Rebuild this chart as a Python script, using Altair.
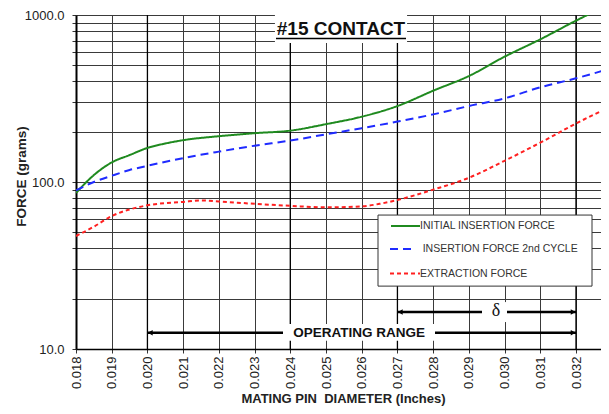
import altair as alt
import pandas as pd

# ---------------- data ----------------
series = ["INITIAL INSERTION FORCE", "INSERTION FORCE 2nd CYCLE", "EXTRACTION FORCE"]
colors = ["#1f8a1f", "#1f2bff", "#ff2020"]
dashes = [[1, 0], [8, 5], [4, 3]]

green_x = [0.018, 0.0185, 0.019, 0.0195, 0.020, 0.0205, 0.021, 0.022, 0.023, 0.024,
           0.025, 0.026, 0.027, 0.028, 0.029, 0.030, 0.031, 0.032, 0.0324]
green_y = [86, 110, 131, 145, 160, 170, 178, 188, 196, 203,
           222, 246, 285, 352, 431, 563, 715, 925, 1020]

blue_x = [0.018, 0.0185, 0.019, 0.0195, 0.020, 0.021, 0.022, 0.023, 0.024,
          0.025, 0.026, 0.027, 0.028, 0.029, 0.030, 0.031, 0.032, 0.033]
blue_y = [89, 100, 109, 118, 125, 139, 152, 165, 177,
          193, 210, 230, 254, 285, 317, 369, 418, 480]

red_x = [0.018, 0.0185, 0.019, 0.0195, 0.020, 0.021, 0.0215, 0.022, 0.023, 0.024,
         0.025, 0.026, 0.0265, 0.027, 0.028, 0.029, 0.030, 0.031, 0.032, 0.033]
red_y = [47.5, 54, 62.5, 68.5, 72.5, 76, 77.5, 76.5, 74, 72,
         70.5, 71.5, 74, 78, 90, 106, 134, 172, 224, 285]

x_ticks = [0.018, 0.019, 0.020, 0.021, 0.022, 0.023, 0.024, 0.025, 0.026,
           0.027, 0.028, 0.029, 0.030, 0.031, 0.032]
y_ticks = [10, 20, 30, 40, 50, 60, 70, 80, 90,
           100, 200, 300, 400, 500, 600, 700, 800, 900, 1000]
x_domain = [0.018, 0.0327]
y_domain = [10, 1000]

# emphasised vertical grid lines (operating-range marks)
strong_x = [0.020, 0.024, 0.027, 0.032]

# annotations (data units)
title_text = ["#15 CONTACT"]
title_pos = [0.02542, 759]
title_box = [0.02357, 0.02727, 1000, 679]
title_underline = [0.02360, 0.02724, 723]

op_text = ["OPERATING RANGE"]
op_line = [0.020, 0.032, 12.5]
op_box = [0.023796, 0.028052, 14.1, 11.2]
op_text_pos = [0.025924, 12.5]

delta_text = ["\u03b4"]
delta_line = [0.027, 0.032, 16.66]
delta_box = [0.029368, 0.030068, 19.1, 14.5]
delta_text_pos = [0.029760, 16.9]

legend_box = [0.026456, 0.032448, 63.4, 23.8]
legend_rows_y = [54.5, 39.7, 28.3]
legend_sample_x1 = [0.02682, 0.026792, 0.026792]
legend_sample_x2 = [0.027632, 0.027408, 0.027632]
legend_text_x = [0.027632, 0.027706, 0.027632]

FONT = "Liberation Sans"
GRID = "#3a3a3a"

# ---------------- tables ----------------
df = pd.concat([
    pd.DataFrame({"x": green_x, "y": green_y, "series": series[0]}),
    pd.DataFrame({"x": blue_x, "y": blue_y, "series": series[1]}),
    pd.DataFrame({"x": red_x, "y": red_y, "series": series[2]}),
], ignore_index=True)

xscale = alt.Scale(domain=x_domain, nice=False, zero=False)
yscale = alt.Scale(type="log", domain=y_domain, nice=False)

xaxis = alt.Axis(
    values=x_ticks, format=".3f", labelAngle=-90, labelFontSize=13, labelColor="#222",
    labelPadding=3, labelFlush=False, labelOverlap=False, labelFont=FONT,
    tickSize=4, tickColor="#333", grid=True, gridColor=GRID, gridWidth=1,
    domainColor="#000", domainWidth=1.5,
    title="MATING PIN \u00a0DIAMETER (Inches)", titleFont=FONT, titleFontSize=13,
    titleFontWeight="bold", titleColor="#222", titleX=267, titleY=53,
    titleBaseline="alphabetic", titleAlign="center",
)
yaxis = alt.Axis(
    values=y_ticks,
    labelExpr="(datum.value == 10 || datum.value == 100 || datum.value == 1000) ? format(datum.value, '.1f') : ''",
    labelFontSize=13, labelColor="#222", labelPadding=8, labelFont=FONT, labelOverlap=False,
    tickSize=4, tickColor="#333", grid=True, gridColor=GRID, gridWidth=1,
    domainColor="#000", domainWidth=2,
    title="FORCE (grams)", titleFont=FONT, titleFontSize=13.5, titleFontWeight="bold",
    titleColor="#222", titleAngle=270, titleX=-55, titleY=161,
    titleAlign="center", titleBaseline="middle",
)


def X(f):
    return alt.X(f"{f}:Q", scale=xscale, axis=xaxis)


def Y(f):
    return alt.Y(f"{f}:Q", scale=yscale, axis=yaxis)


color_enc = alt.Color("series:N", scale=alt.Scale(domain=series, range=colors), legend=None)
dash_enc = alt.StrokeDash("series:N", scale=alt.Scale(domain=series, range=dashes), legend=None)

base = alt.Chart(df)

strong = alt.Chart(pd.DataFrame({"x": strong_x})).mark_rule(color="#000", strokeWidth=1.3).encode(x=X("x"))

lines = base.mark_line(strokeWidth=2, clip=True, interpolate="monotone").encode(
    x=X("x"), y=Y("y"), color=color_enc, strokeDash=dash_enc
)


def box(vals, stroke=None):
    d = pd.DataFrame({"x": [vals[0]], "x2": [vals[1]], "y": [vals[2]], "y2": [vals[3]]})
    kw = dict(fill="white")
    if stroke:
        kw.update(stroke=stroke, strokeWidth=1)
    return alt.Chart(d).mark_rect(**kw).encode(
        x=X("x"), x2="x2:Q", y=Y("y"), y2="y2:Q")


def hline(vals, width):
    d = pd.DataFrame({"x": [vals[0]], "x2": [vals[1]], "y": [vals[2]]})
    return alt.Chart(d).mark_rule(color="#000", strokeWidth=width).encode(
        x=X("x"), x2="x2:Q", y=Y("y"))


def label(txt, pos, size, weight="normal", font=FONT):
    d = pd.DataFrame({"x": [pos[0]], "y": [pos[1]], "t": txt})
    return alt.Chart(d).mark_text(font=font, fontSize=size, fontWeight=weight, color="#111",
                                  align="center", baseline="middle").encode(
        x=X("x"), y=Y("y"), text="t:N")


def heads(line):
    d = pd.DataFrame({"x": [line[0] + 0.00008, line[1] - 0.00008], "y": [line[2]] * 2,
                      "s": ["triangle-left", "triangle-right"]})
    return alt.Chart(d).mark_point(filled=True, size=30, color="#000", opacity=1).encode(
        x=X("x"), y=Y("y"),
        shape=alt.Shape("s:N", scale=alt.Scale(domain=["triangle-left", "triangle-right"],
                                                range=["triangle-left", "triangle-right"]),
                        legend=None))


# title
title_layer = [
    box(title_box),
    alt.Chart(pd.DataFrame({"x": [title_pos[0]], "y": [title_pos[1]], "t": title_text}))
    .mark_text(font=FONT, fontSize=19, fontWeight="bold", color="#111", align="center",
               baseline="alphabetic").encode(x=X("x"), y=Y("y"), text="t:N"),
    hline(title_underline, 1.6),
]

# arrows
arrow_layer = [
    hline(op_line, 2.5), heads(op_line), box(op_box), label(op_text, op_text_pos, 13.5, "bold"),
    hline(delta_line, 2.5), heads(delta_line), box(delta_box),
    label(delta_text, delta_text_pos, 18, "normal", "Liberation Serif"),
]

# legend
leg = pd.DataFrame({"series": series, "y": legend_rows_y, "x": legend_sample_x1,
                    "x2": legend_sample_x2, "tx": legend_text_x})
legend_layer = [
    box(legend_box, stroke="#333"),
    alt.Chart(leg).mark_rule(strokeWidth=2).encode(
        x=X("x"), x2="x2:Q", y=Y("y"), color=color_enc, strokeDash=dash_enc),
    alt.Chart(leg).mark_text(font=FONT, fontSize=10.5, color="#333", align="left",
                             baseline="middle").encode(x=X("tx"), y=Y("y"), text="series:N"),
]

chart = alt.layer(strong, lines, *title_layer, *arrow_layer, *legend_layer).properties(
    width=525, height=334,
    autosize=alt.AutoSizeParams(type="none"),
    padding={"left": 68, "top": 7, "right": 0, "bottom": 57},
).configure_view(stroke=None).configure(font=FONT, background="white")

chart.save("out.html", embed_options={"renderer": "svg", "actions": False})
